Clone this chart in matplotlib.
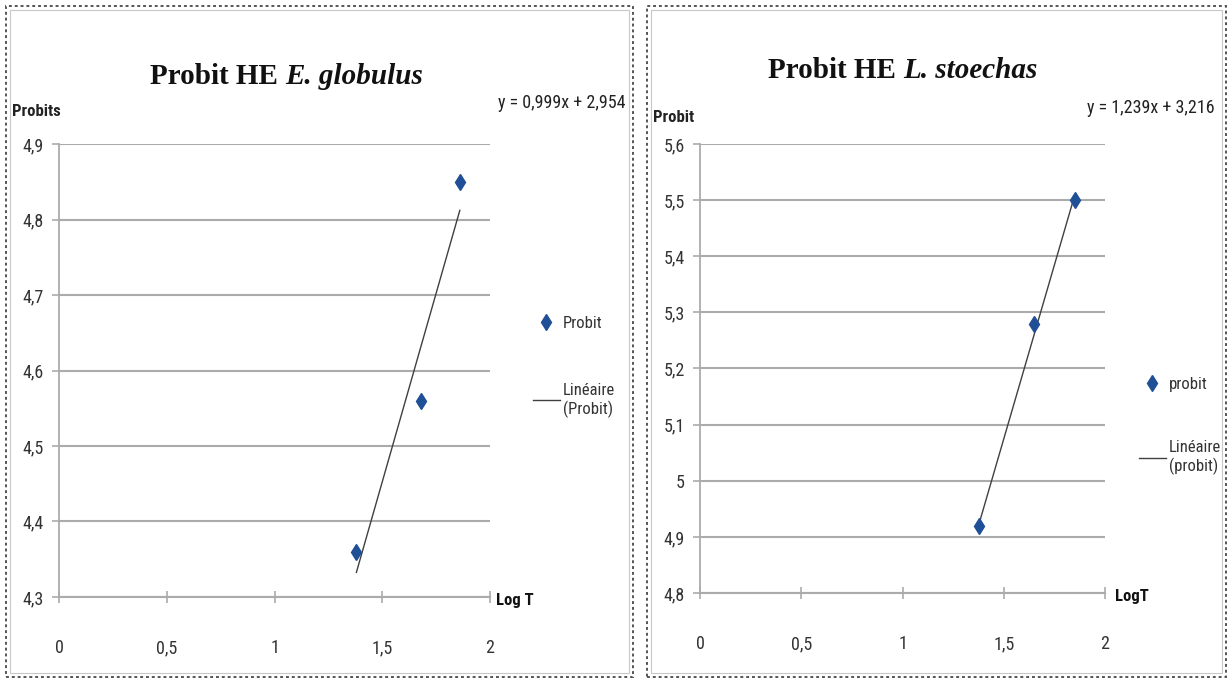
import numpy as np
import matplotlib
matplotlib.use('Agg')
import matplotlib.pyplot as plt
from matplotlib import font_manager
from matplotlib.patches import Rectangle
from matplotlib.ticker import FuncFormatter, FixedLocator

# ---------------- data ----------------
log_t_glob = [1.38, 1.68, 1.86]
probit_glob = [4.36, 4.56, 4.85]
slope_glob, intercept_glob = 0.999, 2.954

log_t_stoe = [1.38, 1.65, 1.85]
probit_stoe = [4.92, 5.28, 5.50]
slope_stoe, intercept_stoe = 1.239, 3.216

x_ticks = [0, 0.5, 1, 1.5, 2]
y_ticks_glob = [4.3, 4.4, 4.5, 4.6, 4.7, 4.8, 4.9]
y_ticks_stoe = [4.8, 4.9, 5.0, 5.1, 5.2, 5.3, 5.4, 5.5, 5.6]

eq_glob = "y = 0,999x + 2,954"
eq_stoe = "y = 1,239x + 3,216"

# ---------------- fonts ----------------
names = {f.name for f in font_manager.fontManager.ttflist}
def pick(cands):
    for c in cands:
        if c in names:
            return c
    return 'DejaVu Sans'
SANS = pick(['Liberation Sans Narrow', 'Roboto Condensed', 'Open Sans Condensed', 'Liberation Sans'])
SERIF = pick(['Liberation Serif', 'DejaVu Serif'])

W, H = 1231, 682
fig = plt.figure(figsize=(W / 100, H / 100), dpi=100)
fig.patch.set_facecolor('white')

GRID = '#ababab'
TXT = '#333333'
BLUE = '#1f4f96'

def fmt(v, pos):
    s = ('%.1f' % v).replace('.', ',')
    if s.endswith(',0'):
        s = s[:-2]
    return s

def setup(ax, yt, xs, ys, slope, icpt):
    ax.set_xlim(0, 2)
    ax.set_ylim(yt[0], yt[-1])
    ax.xaxis.set_major_locator(FixedLocator(x_ticks))
    ax.yaxis.set_major_locator(FixedLocator(yt))
    ax.xaxis.set_major_formatter(FuncFormatter(fmt))
    ax.yaxis.set_major_formatter(FuncFormatter(fmt))
    ax.grid(axis='y', color=GRID, linewidth=1.5)
    ax.set_axisbelow(True)
    for s in ['top', 'right']:
        ax.spines[s].set_visible(False)
    ax.spines['left'].set_color(GRID)
    ax.spines['left'].set_linewidth(1.3)
    ax.spines['bottom'].set_color(GRID)
    ax.spines['bottom'].set_linewidth(1.5)
    ax.tick_params(axis='x', direction='inout', length=9, color=GRID, width=1.2,
                   pad=26, labelsize=13, labelcolor=TXT)
    ax.tick_params(axis='y', direction='out', length=5, color=GRID, width=1.2,
                   pad=6, labelsize=13, labelcolor=TXT)
    for lab in ax.get_xticklabels() + ax.get_yticklabels():
        lab.set_fontfamily(SANS)
    pts, = ax.plot(xs, ys, linestyle='none', marker='d', markersize=8.5,
                   color=BLUE, markeredgecolor=BLUE, zorder=4)
    xl = np.array([min(xs), max(xs)])
    ln, = ax.plot(xl, slope * xl + icpt, color='#404040', linewidth=1.0, zorder=3)
    return pts, ln

# ---------------- left panel ----------------
ax1 = fig.add_axes([59 / W, 1 - 597 / H, 431 / W, 453 / H])
p1, l1 = setup(ax1, y_ticks_glob, log_t_glob, probit_glob, slope_glob, intercept_glob)

# ---------------- right panel ----------------
ax2 = fig.add_axes([700 / W, 1 - 593 / H, 405 / W, 449 / H])
p2, l2 = setup(ax2, y_ticks_stoe, log_t_stoe, probit_stoe, slope_stoe, intercept_stoe)

# legends
leg1 = fig.legend([p1, l1], ['Probit', 'Linéaire\n(Probit)'], frameon=False,
                  loc='upper left', bbox_to_anchor=(518 / W, 1 - 301 / H),
                  prop={'family': SANS, 'size': 12}, labelcolor=TXT,
                  labelspacing=3.1, handlelength=1.6, handletextpad=0.2)
leg2 = fig.legend([p2, l2], ['probit', 'Linéaire\n(probit)'], frameon=False,
                  loc='upper left', bbox_to_anchor=(1124 / W, 1 - 362 / H),
                  prop={'family': SANS, 'size': 12}, labelcolor=TXT,
                  labelspacing=2.9, handlelength=1.6, handletextpad=0.2)

# axis labels
fig.text(12 / W, 1 - 111 / H, 'Probits', fontfamily=SANS, fontsize=12,
         fontweight='bold', color='#222222', ha='left', va='center')
fig.text(653 / W, 1 - 117 / H, 'Probit', fontfamily=SANS, fontsize=12,
         fontweight='bold', color='#222222', ha='left', va='center')
fig.text(496 / W, 1 - 601 / H, 'Log T', fontfamily=SANS, fontsize=12,
         fontweight='bold', color='#111111', ha='left', va='center')
fig.text(1115 / W, 1 - 597 / H, 'LogT', fontfamily=SANS, fontsize=12,
         fontweight='bold', color='#111111', ha='left', va='center')

# equations
fig.text(625 / W, 1 - 103 / H, eq_glob, fontfamily=SANS, fontsize=13,
         color='#222222', ha='right', va='center')
fig.text(1215 / W, 1 - 108 / H, eq_stoe, fontfamily=SANS, fontsize=13,
         color='#222222', ha='right', va='center')

# titles (two-part: bold + bold italic)
def title(x0, base, part1, part2):
    t1 = fig.text(x0 / W, 1 - base / H, part1, fontfamily=SERIF, fontsize=21,
                  fontweight='bold', color='#111111', ha='left', va='baseline')
    fig.canvas.draw()
    bb = t1.get_window_extent()
    fig.text(bb.x1 / W, 1 - base / H, part2, fontfamily=SERIF, fontsize=21,
             fontweight='bold', fontstyle='italic', color='#111111',
             ha='left', va='baseline')

title(150, 84, 'Probit HE ', 'E. globulus')
title(768, 78, 'Probit HE ', 'L. stoechas')

# panel frames (dotted outer, light solid inner)
for (x0, x1) in [(6, 633), (647, 1226)]:
    fig.add_artist(Rectangle((x0 / W, 1 - 677 / H), (x1 - x0) / W, 671 / H,
                             transform=fig.transFigure, fill=False,
                             edgecolor='#555555', linewidth=1.4,
                             linestyle=(0, (1.5, 1.5))))
    fig.add_artist(Rectangle(((x0 + 4) / W, 1 - 673 / H), (x1 - x0 - 8) / W, 663 / H,
                             transform=fig.transFigure, fill=False,
                             edgecolor='#c8c8c8', linewidth=0.8))

fig.savefig('out.png', dpi=100, facecolor='white')
